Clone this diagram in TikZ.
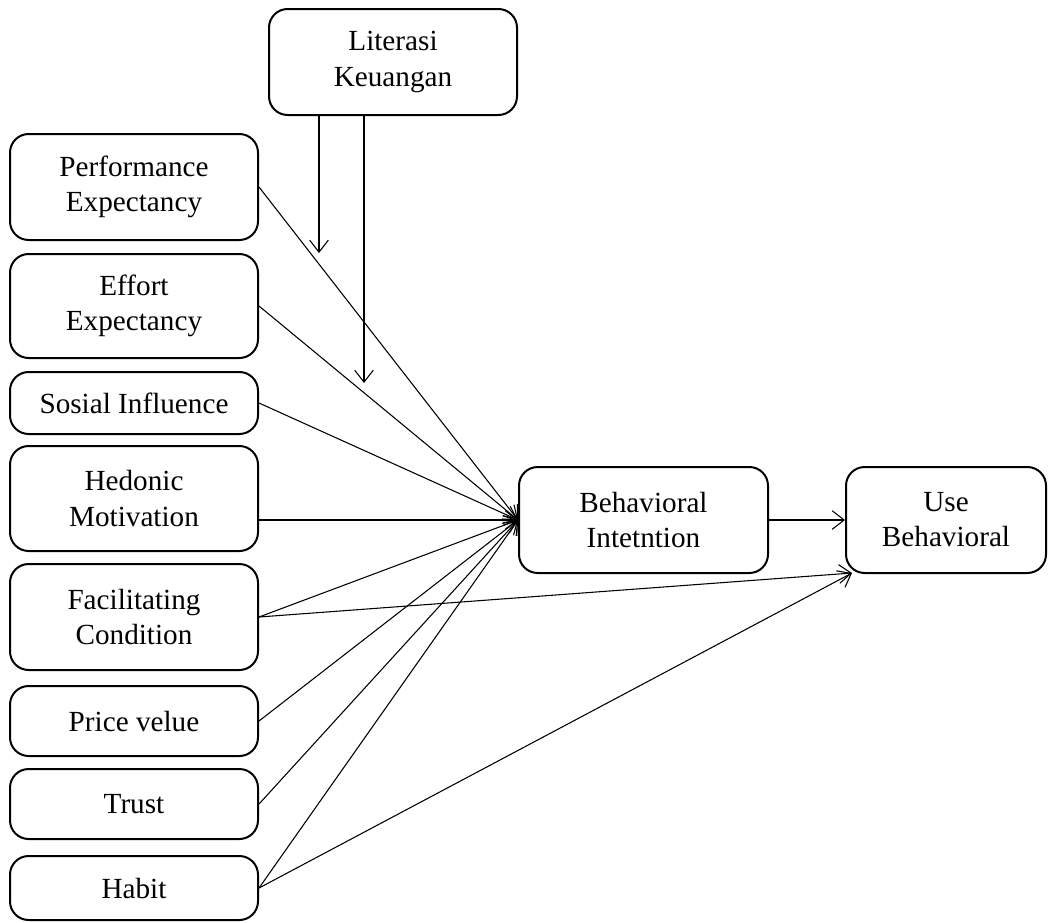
\documentclass[tikz,border=0pt]{standalone}
\usepackage{fontspec}
\setmainfont{Liberation Serif}
\usetikzlibrary{arrows.meta,calc}
\begin{document}
\begin{tikzpicture}[x=0.75pt,y=-0.75pt,
  box/.style={draw, line width=1.5pt, rounded corners=14pt, align=center,
    inner sep=0pt, font=\fontsize{21.9pt}{26.3pt}\selectfont},
  arr/.style={line width=0.8pt, -{Straight Barb[length=9pt,width=14pt,line width=0.8pt]}}]
\useasboundingbox (0,0) rectangle (1048,922);
\node[box, minimum width=248*0.75pt, minimum height=106*0.75pt] (LK) at (393,62) {Literasi\\Keuangan};
\node[box, minimum width=248*0.75pt, minimum height=106*0.75pt] (PE) at (134,187) {Performance\\Expectancy};
\node[box, minimum width=248*0.75pt, minimum height=104*0.75pt] (EE) at (134,306) {Effort\\Expectancy};
\node[box, minimum width=248*0.75pt, minimum height=62*0.75pt] (SI) at (134,403) {Sosial Influence};
\node[box, minimum width=248*0.75pt, minimum height=105*0.75pt] (HM) at (134,498.5) {Hedonic\\Motivation};
\node[box, minimum width=248*0.75pt, minimum height=106*0.75pt] (FC) at (134,617) {Facilitating\\Condition};
\node[box, minimum width=248*0.75pt, minimum height=70*0.75pt] (PV) at (134,721) {Price velue};
\node[box, minimum width=248*0.75pt, minimum height=70*0.75pt] (TR) at (134,804) {Trust};
\node[box, minimum width=248*0.75pt, minimum height=64*0.75pt] (HB) at (134,888) {Habit};
\node[box, minimum width=249*0.75pt, minimum height=106*0.75pt] (BI) at (643.5,520) {Behavioral\\Intetntion};
\node[box, minimum width=200*0.75pt, minimum height=106*0.75pt] (UB) at (946,520) {Use\\Behavioral};
\coordinate (l1) at (319,253);
\coordinate (l2) at (364,383);
\coordinate (uc) at (852,573);
\draw[arr] (LK.south -| l1) -- (l1);
\draw[arr] (LK.south -| l2) -- (l2);
\draw[arr] (PE.east) -- (BI.west);
\draw[arr] (EE.east) -- (BI.west);
\draw[arr] (SI.east) -- (BI.west);
\draw[arr] (HM.east |- BI.west) -- (BI.west);
\draw[arr] (FC.east) -- (BI.west);
\draw[arr] (PV.east) -- (BI.west);
\draw[arr] (TR.east) -- (BI.west);
\draw[arr] (HB.east) -- (BI.west);
\draw[arr] (BI.east) -- (UB.west);
\draw[arr] (FC.east) -- (uc);
\draw[arr] (HB.east) -- (uc);
\end{tikzpicture}
\end{document}
